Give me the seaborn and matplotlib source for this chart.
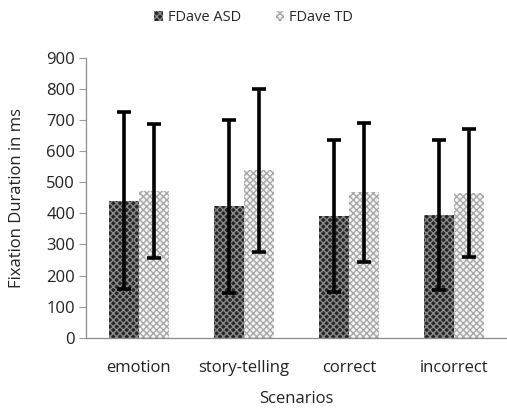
import numpy as np
import pandas as pd
import matplotlib
matplotlib.use("Agg")
import matplotlib.pyplot as plt
import seaborn as sns
from matplotlib.patches import Patch

scenarios = ["emotion", "story-telling", "correct", "incorrect"]
groups = ["FDave ASD", "FDave TD"]
asd_mean = [441, 422, 392, 395]
asd_sd = [284, 277, 245, 242]
td_mean = [472, 538, 467, 465]
td_sd = [214, 261, 222, 206]

sns.set_theme(style="white")
plt.rcParams["font.family"] = ["Open Sans", "DejaVu Sans"]
plt.rcParams["hatch.linewidth"] = 1.0

df = pd.DataFrame({
    "Scenarios": scenarios * 2,
    "group": [groups[0]] * 4 + [groups[1]] * 4,
    "value": asd_mean + td_mean,
})

fig = plt.figure(figsize=(5.07, 4.12), dpi=100)
ax = fig.add_axes([0.170, 0.180, 0.830, 0.680])

sns.barplot(data=df, x="Scenarios", y="value", hue="group", order=scenarios,
            hue_order=groups, width=0.57, errorbar=None, legend=False,
            palette=["#262626", "#f2f2f2"], ax=ax, saturation=1)

styles = [("#262626", "#8a8a8a"), ("#f4f4f4", "#a8a8a8")]
sds = [asd_sd, td_sd]
means = [asd_mean, td_mean]
for cont, (fc, hc), sd, mn in zip(ax.containers, styles, sds, means):
    xs = []
    for bar in cont:
        bar.set_facecolor(fc)
        bar.set_edgecolor(hc)
        bar.set_hatch("xxxxx")
        bar.set_linewidth(0)
        xs.append(bar.get_x() + bar.get_width() / 2)
    ax.errorbar(xs, mn, yerr=sd, fmt="none", ecolor="black", elinewidth=2.6,
                capsize=5, capthick=2.6, zorder=5)

fs = 12
ax.set_ylim(0, 900)
ax.set_yticks(range(0, 901, 100))
ax.set_xlim(-0.5, 3.5)
ax.set_xticks([-0.5, 0.5, 1.5, 2.5], minor=False, labels=[])
ax.set_xticks(range(4), minor=True, labels=scenarios)
ax.tick_params(axis="x", which="minor", length=0, labelsize=fs, pad=16, colors="#222222")
ax.tick_params(axis="x", which="major", length=5, width=0.8, color="#888888", direction="out")
ax.tick_params(axis="y", length=5, width=0.8, color="#999999", labelsize=fs,
               labelcolor="#222222", direction="out", left=True, pad=3)
for s in ["top", "right"]:
    ax.spines[s].set_visible(False)
for s in ["left", "bottom"]:
    ax.spines[s].set_color("#8c8c8c")
    ax.spines[s].set_linewidth(0.9)

ax.set_xlabel("Scenarios", fontsize=fs, color="#222222", labelpad=11)
ax.set_ylabel("Fixation Duration in ms", fontsize=fs, color="#222222", labelpad=15)

handles = [Patch(facecolor=styles[0][0], edgecolor=styles[0][1], hatch="xxxxx", linewidth=0),
           Patch(facecolor=styles[1][0], edgecolor=styles[1][1], hatch="xxxxx", linewidth=0)]
fig.legend(handles, groups, loc="center", bbox_to_anchor=(0.50, 0.957), ncol=2,
           frameon=False, fontsize=10.5, handlelength=0.6, handleheight=0.7,
           handletextpad=0.3, columnspacing=2.4)

fig.savefig("out.png", dpi=100)
